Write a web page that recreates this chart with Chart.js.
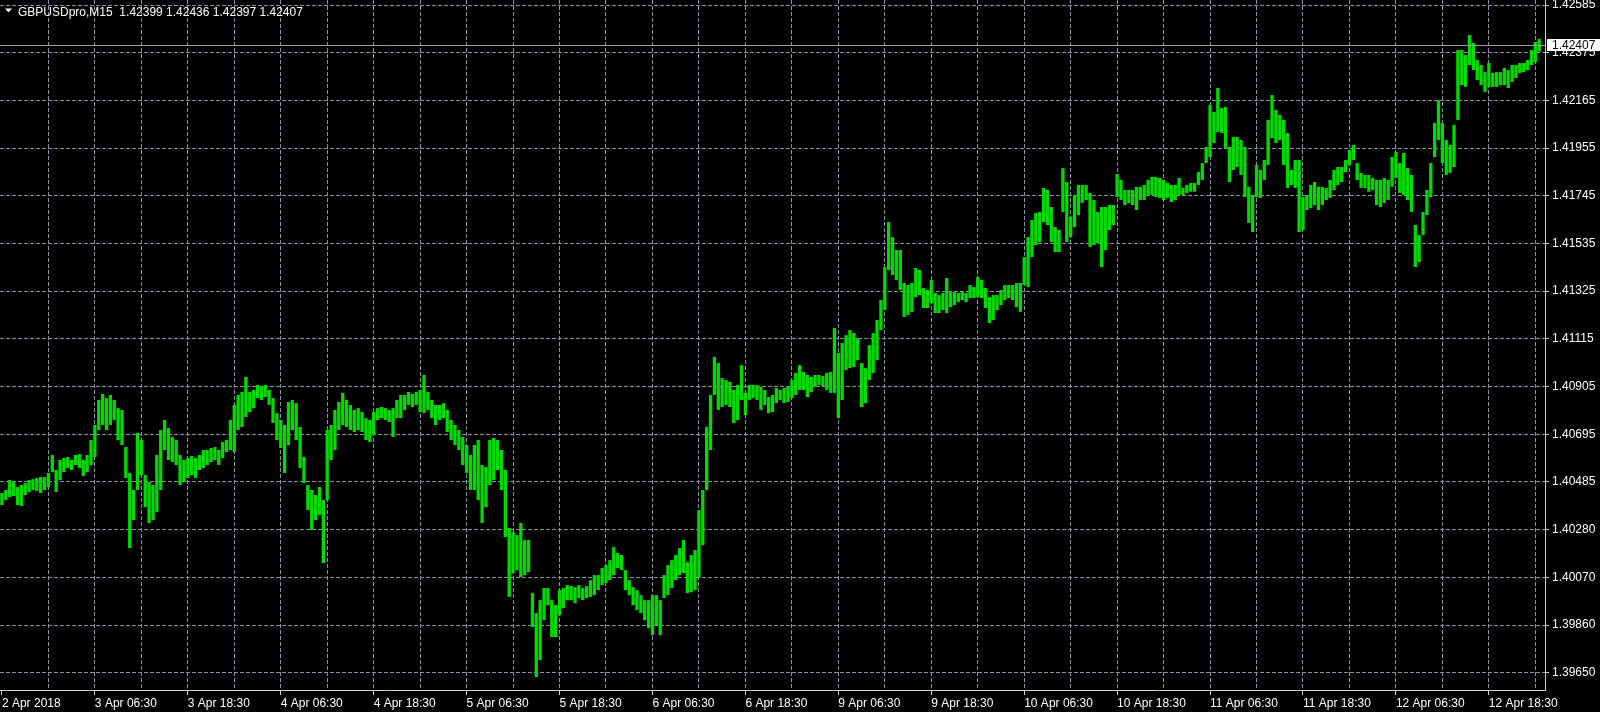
<!DOCTYPE html>
<html>
<head>
<meta charset="utf-8">
<title>GBPUSDpro,M15</title>
<script src="https://cdn.jsdelivr.net/npm/chart.js@4.4.1/dist/chart.umd.min.js"></script>
<style>
  html, body { margin: 0; padding: 0; background: #000; }
  #priceChart { display: block; background: #000; }
</style>
</head>
<body>
<canvas id="priceChart" width="1600" height="712"></canvas>
<script>
// Symbol header and the OHLC of the last M15 bar
const symbolName = 'GBPUSDpro,M15';
const lastBar = [1.42399, 1.42436, 1.42397, 1.42407];

// Tick labels
const timeLabels = ['2 Apr 2018', '3 Apr 06:30', '3 Apr 18:30', '4 Apr 06:30', '4 Apr 18:30',
    '5 Apr 06:30', '5 Apr 18:30', '6 Apr 06:30', '6 Apr 18:30', '9 Apr 06:30', '9 Apr 18:30',
    '10 Apr 06:30', '10 Apr 18:30', '11 Apr 06:30', '11 Apr 18:30', '12 Apr 06:30', '12 Apr 18:30'];
const priceLabels = ['1.39650', '1.39860', '1.40070', '1.40280', '1.40485', '1.40695', '1.40905',
    '1.41115', '1.41325', '1.41535', '1.41745', '1.41955', '1.42165', '1.42375', '1.42585'];

// Bar highs and lows, 30 min each (one row = 6 hours)
const barHigh = [
    1.40440, 1.40453, 1.40497, 1.40488, 1.40466, 1.40475, 1.40484, 1.40497, 1.40501, 1.40506, 1.40510, 1.40510,
    1.40528, 1.40607, 1.40541, 1.40585, 1.40594, 1.40598, 1.40585, 1.40607, 1.40611, 1.40585, 1.40607, 1.40673,
    1.40739, 1.40849, 1.40875, 1.40857, 1.40871, 1.40849, 1.40813, 1.40805, 1.40642, 1.40528, 1.40453, 1.40704,
    1.40673, 1.40519, 1.40488, 1.40475, 1.40607, 1.40717, 1.40761, 1.40726, 1.40686, 1.40673, 1.40607, 1.40585,
    1.40594, 1.40602, 1.40594, 1.40607, 1.40629, 1.40629, 1.40638, 1.40642, 1.40629, 1.40664, 1.40673, 1.40761,
    1.40827, 1.40871, 1.40884, 1.40950, 1.40884, 1.40893, 1.40915, 1.40910, 1.40915, 1.40893, 1.40857, 1.40791,
    1.40761, 1.40739, 1.40840, 1.40849, 1.40835, 1.40730, 1.40598, 1.40475, 1.40453, 1.40431, 1.40466, 1.40409,
    1.40717, 1.40739, 1.40805, 1.40840, 1.40880, 1.40849, 1.40827, 1.40805, 1.40813, 1.40796, 1.40769, 1.40761,
    1.40796, 1.40813, 1.40818, 1.40813, 1.40805, 1.40813, 1.40849, 1.40871, 1.40871, 1.40884, 1.40875, 1.40884,
    1.40893, 1.40959, 1.40884, 1.40849, 1.40827, 1.40827, 1.40835, 1.40805, 1.40761, 1.40739, 1.40717, 1.40686,
    1.40651, 1.40607, 1.40651, 1.40673, 1.40563, 1.40554, 1.40673, 1.40682, 1.40673, 1.40629, 1.40541, 1.40286,
    1.40268, 1.40255, 1.40308, 1.40233, 1.40233, 1.40000, 1.39912, 1.39969, 1.40022, 1.40022, 1.39969, 1.39947,
    1.40013, 1.40022, 1.40035, 1.40031, 1.40026, 1.40035, 1.40022, 1.40031, 1.40057, 1.40079, 1.40079, 1.40110,
    1.40123, 1.40145, 1.40202, 1.40176, 1.40167, 1.40101, 1.40057, 1.40026, 1.40013, 1.39991, 1.39969, 1.39969,
    1.39991, 1.39991, 1.39969, 1.40079, 1.40123, 1.40145, 1.40167, 1.40198, 1.40233, 1.40136, 1.40167, 1.40189,
    1.40365, 1.40453, 1.40730, 1.40871, 1.41038, 1.41011, 1.40945, 1.40937, 1.40928, 1.40893, 1.40915, 1.41002,
    1.40880, 1.40915, 1.40915, 1.40915, 1.40906, 1.40893, 1.40862, 1.40871, 1.40902, 1.40893, 1.40902, 1.40906,
    1.40937, 1.40968, 1.41002, 1.40972, 1.40959, 1.40950, 1.40959, 1.40959, 1.40954, 1.40968, 1.40972, 1.41165,
    1.41055, 1.41099, 1.41134, 1.41156, 1.41143, 1.41121, 1.41011, 1.40989, 1.41090, 1.41143, 1.41200, 1.41288,
    1.41433, 1.41631, 1.41565, 1.41508, 1.41508, 1.41363, 1.41354, 1.41363, 1.41429, 1.41420, 1.41341, 1.41332,
    1.41376, 1.41319, 1.41310, 1.41319, 1.41385, 1.41323, 1.41323, 1.41319, 1.41323, 1.41319, 1.41354, 1.41345,
    1.41389, 1.41376, 1.41341, 1.41301, 1.41310, 1.41310, 1.41332, 1.41354, 1.41354, 1.41354, 1.41363, 1.41363,
    1.41477, 1.41565, 1.41640, 1.41671, 1.41675, 1.41781, 1.41772, 1.41697, 1.41609, 1.41596, 1.41868, 1.41807,
    1.41654, 1.41750, 1.41794, 1.41794, 1.41794, 1.41759, 1.41728, 1.41675, 1.41697, 1.41697, 1.41706, 1.41706,
    1.41842, 1.41816, 1.41772, 1.41772, 1.41772, 1.41786, 1.41786, 1.41794, 1.41816, 1.41829, 1.41829, 1.41825,
    1.41816, 1.41803, 1.41794, 1.41794, 1.41825, 1.41781, 1.41794, 1.41803, 1.41803, 1.41851, 1.41890, 1.41961,
    1.42146, 1.42115, 1.42220, 1.42132, 1.42137, 1.41961, 1.42005, 1.42005, 1.41992, 1.41961, 1.41786, 1.41750,
    1.41882, 1.41860, 1.41904, 1.42080, 1.42189, 1.42124, 1.42102, 1.42080, 1.42022, 1.41860, 1.41904, 1.41904,
    1.41741, 1.41750, 1.41794, 1.41807, 1.41786, 1.41786, 1.41781, 1.41816, 1.41860, 1.41873, 1.41873, 1.41904,
    1.41948, 1.41970, 1.41890, 1.41847, 1.41838, 1.41838, 1.41825, 1.41816, 1.41816, 1.41825, 1.41816, 1.41917,
    1.41939, 1.41890, 1.41935, 1.41868, 1.41838, 1.41618, 1.41574, 1.41675, 1.41772, 1.41890, 1.42066, 1.42167,
    1.42066, 1.41992, 1.41970, 1.42058, 1.42387, 1.42387, 1.42365, 1.42453, 1.42418, 1.42343, 1.42321, 1.42290,
    1.42330, 1.42286, 1.42290, 1.42290, 1.42308, 1.42299, 1.42321, 1.42321, 1.42330, 1.42330, 1.42343, 1.42387,
    1.42422, 1.42436
];
const barLow = [
    1.40387, 1.40409, 1.40422, 1.40427, 1.40387, 1.40383, 1.40431, 1.40444, 1.40453, 1.40449, 1.40440, 1.40453,
    1.40466, 1.40532, 1.40444, 1.40497, 1.40532, 1.40550, 1.40541, 1.40563, 1.40550, 1.40515, 1.40532, 1.40563,
    1.40598, 1.40717, 1.40739, 1.40717, 1.40739, 1.40761, 1.40673, 1.40651, 1.40506, 1.40198, 1.40321, 1.40453,
    1.40519, 1.40378, 1.40308, 1.40321, 1.40356, 1.40453, 1.40629, 1.40585, 1.40576, 1.40563, 1.40475, 1.40488,
    1.40506, 1.40519, 1.40506, 1.40541, 1.40550, 1.40563, 1.40576, 1.40585, 1.40563, 1.40594, 1.40620, 1.40629,
    1.40620, 1.40717, 1.40730, 1.40774, 1.40796, 1.40813, 1.40857, 1.40849, 1.40862, 1.40827, 1.40748, 1.40673,
    1.40638, 1.40528, 1.40651, 1.40717, 1.40673, 1.40550, 1.40484, 1.40365, 1.40277, 1.40321, 1.40343, 1.40132,
    1.40409, 1.40585, 1.40629, 1.40717, 1.40739, 1.40730, 1.40717, 1.40708, 1.40717, 1.40708, 1.40673, 1.40664,
    1.40695, 1.40761, 1.40769, 1.40761, 1.40752, 1.40686, 1.40769, 1.40769, 1.40805, 1.40827, 1.40818, 1.40827,
    1.40796, 1.40791, 1.40805, 1.40769, 1.40739, 1.40761, 1.40769, 1.40708, 1.40673, 1.40651, 1.40629, 1.40563,
    1.40528, 1.40453, 1.40453, 1.40409, 1.40308, 1.40378, 1.40475, 1.40497, 1.40541, 1.40453, 1.40246, 1.39983,
    1.40088, 1.40101, 1.40070, 1.40079, 1.40092, 1.39851, 1.39631, 1.39706, 1.39881, 1.39947, 1.39807, 1.39807,
    1.39903, 1.39934, 1.39969, 1.39969, 1.39956, 1.39978, 1.39969, 1.39978, 1.39983, 1.39991, 1.40013, 1.40035,
    1.40044, 1.40057, 1.40079, 1.40110, 1.40101, 1.40013, 1.39991, 1.39947, 1.39925, 1.39912, 1.39881, 1.39846,
    1.39815, 1.39859, 1.39815, 1.39978, 1.39991, 1.40022, 1.40057, 1.40079, 1.40088, 1.40000, 1.40004, 1.40013,
    1.40070, 1.40211, 1.40453, 1.40629, 1.40871, 1.40805, 1.40818, 1.40827, 1.40818, 1.40748, 1.40761, 1.40849,
    1.40783, 1.40849, 1.40857, 1.40849, 1.40805, 1.40827, 1.40791, 1.40796, 1.40835, 1.40849, 1.40835, 1.40840,
    1.40857, 1.40871, 1.40893, 1.40893, 1.40862, 1.40884, 1.40906, 1.40915, 1.40910, 1.40893, 1.40880, 1.40880,
    1.40769, 1.40849, 1.40981, 1.40989, 1.40994, 1.41024, 1.40818, 1.40835, 1.40937, 1.40968, 1.41024, 1.41156,
    1.41244, 1.41420, 1.41398, 1.41376, 1.41332, 1.41214, 1.41222, 1.41236, 1.41301, 1.41310, 1.41253, 1.41253,
    1.41275, 1.41231, 1.41231, 1.41244, 1.41231, 1.41257, 1.41266, 1.41279, 1.41288, 1.41279, 1.41297, 1.41297,
    1.41301, 1.41297, 1.41253, 1.41187, 1.41200, 1.41244, 1.41266, 1.41288, 1.41297, 1.41288, 1.41257, 1.41236,
    1.41354, 1.41345, 1.41477, 1.41530, 1.41543, 1.41631, 1.41618, 1.41543, 1.41499, 1.41499, 1.41675, 1.41543,
    1.41565, 1.41609, 1.41662, 1.41715, 1.41728, 1.41521, 1.41530, 1.41539, 1.41433, 1.41508, 1.41596, 1.41618,
    1.41741, 1.41728, 1.41706, 1.41715, 1.41706, 1.41684, 1.41728, 1.41728, 1.41750, 1.41750, 1.41741, 1.41737,
    1.41728, 1.41737, 1.41719, 1.41728, 1.41750, 1.41750, 1.41759, 1.41764, 1.41764, 1.41794, 1.41816, 1.41890,
    1.41917, 1.41979, 1.42027, 1.42022, 1.41957, 1.41807, 1.41860, 1.41873, 1.41838, 1.41741, 1.41627, 1.41587,
    1.41741, 1.41737, 1.41816, 1.41882, 1.42000, 1.41979, 1.41992, 1.41882, 1.41781, 1.41794, 1.41781, 1.41587,
    1.41596, 1.41684, 1.41693, 1.41706, 1.41684, 1.41706, 1.41728, 1.41737, 1.41772, 1.41794, 1.41807, 1.41851,
    1.41882, 1.41904, 1.41816, 1.41781, 1.41781, 1.41764, 1.41772, 1.41706, 1.41697, 1.41715, 1.41728, 1.41786,
    1.41825, 1.41759, 1.41750, 1.41728, 1.41675, 1.41433, 1.41455, 1.41574, 1.41662, 1.41741, 1.41917, 1.41992,
    1.41890, 1.41838, 1.41847, 1.41873, 1.42080, 1.42233, 1.42225, 1.42321, 1.42299, 1.42255, 1.42233, 1.42203,
    1.42225, 1.42225, 1.42225, 1.42233, 1.42233, 1.42220, 1.42247, 1.42264, 1.42286, 1.42290, 1.42299, 1.42321,
    1.42334, 1.42380
];

const barColor = '#00dc00';
const gridColor = '#8494a6';
const axisColor = '#d0d0d0';
const textColor = '#ffffff';
const uiFont = { family: "'Liberation Sans', Arial, sans-serif", size: 12 };

const bars = barLow.map((lo, i) => [lo, barHigh[i]]);
// one spare slot on the right, like the terminal's shift
const slots = bars.map((_, i) => i).concat([bars.length]);

// Price tick values: evenly spaced between the first and last label
const tickStep = (parseFloat(priceLabels[priceLabels.length - 1]) - parseFloat(priceLabels[0])) / (priceLabels.length - 1);
const tickValues = priceLabels.map((_, i) => parseFloat(priceLabels[0]) + i * tickStep);

// Bid line, price box and header text
const overlay = {
    id: 'overlay',
    afterDatasetsDraw(chart) {
        const { ctx, chartArea } = chart;
        const y = Math.round(chart.scales.y.getPixelForValue(lastBar[3])) + 0.5;
        ctx.save();
        ctx.strokeStyle = '#a0a0a0';
        ctx.lineWidth = 1;
        ctx.beginPath();
        ctx.moveTo(chartArea.left, y);
        ctx.lineTo(chartArea.right, y);
        ctx.stroke();
        ctx.restore();
    },
    afterDraw(chart) {
        const { ctx, chartArea } = chart;
        const y = Math.round(chart.scales.y.getPixelForValue(lastBar[3]));
        ctx.save();
        ctx.fillStyle = '#ffffff';
        ctx.fillRect(chartArea.right + 2, y - 6, chart.width - chartArea.right - 2, 12);
        ctx.fillStyle = '#000000';
        ctx.font = `${uiFont.size}px ${uiFont.family}`;
        ctx.textBaseline = 'middle';
        ctx.fillText(lastBar[3].toFixed(5), chartArea.right + 7, y + 1);

        // header
        ctx.fillStyle = textColor;
        ctx.beginPath();
        ctx.moveTo(5, 8.5);
        ctx.lineTo(12, 8.5);
        ctx.lineTo(8.5, 12.5);
        ctx.closePath();
        ctx.fill();
        ctx.textBaseline = 'alphabetic';
        ctx.fillText(symbolName + '  ' + lastBar.map(v => v.toFixed(5)).join(' '), 18, 15.5);
        ctx.restore();
    }
};

const ctx = document.getElementById('priceChart').getContext('2d');
new Chart(ctx, {
    type: 'bar',
    data: {
        labels: slots,
        datasets: [{
            label: symbolName,
            data: bars,
            backgroundColor: barColor,
            borderWidth: 0,
            barPercentage: 0.85,
            categoryPercentage: 1
        }]
    },
    options: {
        responsive: false,
        animation: false,
        devicePixelRatio: 1,
        layout: { padding: 0 },
        plugins: {
            legend: { display: false },
            tooltip: { enabled: false }
        },
        scales: {
            x: {
                offset: true,
                grid: {
                    offset: false,
                    color: c => (c.index > 0 && c.index % 12 === 0) ? gridColor : 'transparent',
                    tickColor: c => (c.index % 24 === 0) ? axisColor : 'transparent',
                    tickLength: 5,
                    tickBorderDash: []
                },
                border: { color: axisColor, dash: [4, 2] },
                ticks: {
                    autoSkip: false,
                    maxRotation: 0,
                    minRotation: 0,
                    align: 'start',
                    color: textColor,
                    font: uiFont,
                    padding: 1,
                    callback: (value, index) => index % 24 === 0 ? timeLabels[index / 24] : ''
                },
                afterFit: scale => {
                    scale.height = 22;
                    scale.paddingLeft = 0;
                    scale.paddingRight = 0;
                }
            },
            y: {
                position: 'right',
                min: 1.39574,
                max: 1.42607,
                afterBuildTicks: scale => {
                    scale.ticks = tickValues.map(v => ({ value: v }));
                },
                grid: {
                    color: gridColor,
                    tickColor: axisColor,
                    tickLength: 4,
                    tickBorderDash: []
                },
                border: { color: axisColor, dash: [4, 2] },
                ticks: {
                    color: textColor,
                    font: uiFont,
                    padding: 3,
                    callback: (value, index) => priceLabels[index]
                },
                afterFit: scale => {
                    scale.width = 55;
                    scale.paddingTop = 0;
                    scale.paddingBottom = 0;
                }
            }
        }
    },
    plugins: [overlay]
});
</script>
</body>
</html>
